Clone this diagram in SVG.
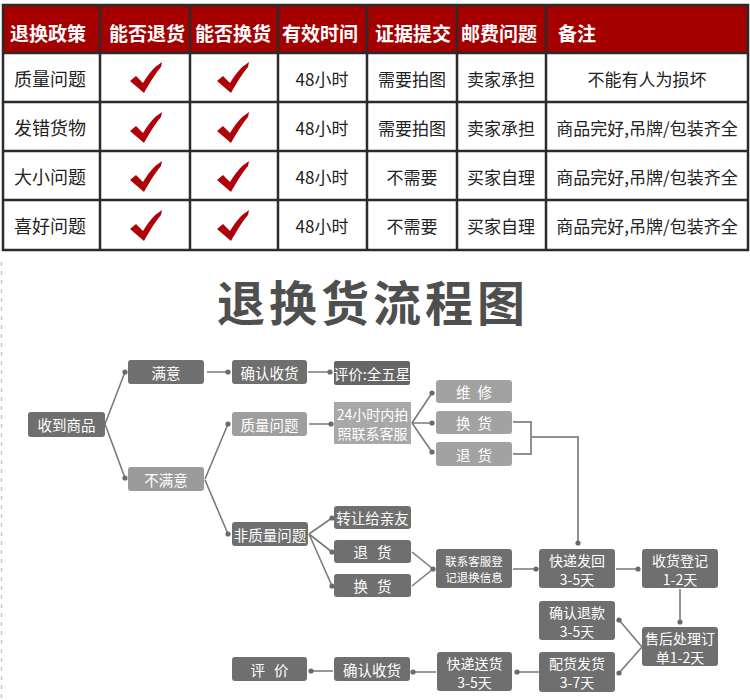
<svg xmlns="http://www.w3.org/2000/svg" width="750" height="700" viewBox="0 0 750 700">
<defs>
<style>
text{font-family:"Noto Sans CJK SC","Noto Sans",sans-serif;dominant-baseline:central;text-anchor:middle}
.hd{fill:#fff;font-size:19px;font-weight:bold}
.td{fill:#222;font-size:17px}
.td1{fill:#222;font-size:18px}
.nt{fill:#fff;font-size:14.5px}
.n2{fill:#fff;font-size:14px}
.ns{fill:#fff;font-size:11.5px}
.dk{fill:#6f6f6f}
.lt{fill:#a2a2a2}
.ln{stroke:#7a7a7a;stroke-width:1.6;fill:none}
.br{stroke:#8f8f8f;stroke-width:2;fill:none}
.dot{fill:#6a6a6a}
.grid{stroke:#2b2b2b;stroke-width:2.5;fill:none}
</style>
<path id="ck" d="M-16,3 L-10,-2 L-3,5 C2,-3 7,-10 12,-13 L16,-16 L15,-11 C9,-4 3,6 -2,15 Z" fill="#b0000a"/>
</defs>
<rect width="750" height="700" fill="#fff"/>

<g id="table">
<rect x="3" y="5" width="745" height="48" fill="#a50000"/>
<rect x="3" y="5" width="745" height="245" class="grid"/>
<path class="grid" d="M3,53H748M3,102H748M3,151H748M3,200H748M100,5V250M190,5V250M278,5V250M367,5V250M457,5V250M546,5V250"/>
<text class="hd" x="48" y="32">退换政策</text>
<text class="hd" x="147" y="32">能否退货</text>
<text class="hd" x="233" y="32">能否换货</text>
<text class="hd" x="320" y="32">有效时间</text>
<text class="hd" x="413" y="32">证据提交</text>
<text class="hd" x="499" y="32">邮费问题</text>
<text class="hd" x="558" y="32" style="text-anchor:start">备注</text>

<text class="td1" x="50" y="78">质量问题</text>
<text class="td1" x="50" y="127">发错货物</text>
<text class="td1" x="50" y="176">大小问题</text>
<text class="td1" x="50" y="225">喜好问题</text>

<use href="#ck" x="146" y="78"/>
<use href="#ck" x="233" y="78"/>
<use href="#ck" x="146" y="128"/>
<use href="#ck" x="233" y="128"/>
<use href="#ck" x="146" y="177"/>
<use href="#ck" x="233" y="177"/>
<use href="#ck" x="146" y="226"/>
<use href="#ck" x="233" y="226"/>

<text class="td" x="322" y="78">48小时</text>
<text class="td" x="322" y="127">48小时</text>
<text class="td" x="322" y="176">48小时</text>
<text class="td" x="322" y="225">48小时</text>
<text class="td" x="412" y="78">需要拍图</text>
<text class="td" x="412" y="127">需要拍图</text>
<text class="td" x="412" y="176">不需要</text>
<text class="td" x="412" y="225">不需要</text>
<text class="td" x="501" y="78">卖家承担</text>
<text class="td" x="501" y="127">卖家承担</text>
<text class="td" x="501" y="176">买家自理</text>
<text class="td" x="501" y="225">买家自理</text>
<text class="td" x="647" y="78">不能有人为损坏</text>
<text class="td" x="647" y="127">商品完好,吊牌/包装齐全</text>
<text class="td" x="647" y="176">商品完好,吊牌/包装齐全</text>
<text class="td" x="647" y="225">商品完好,吊牌/包装齐全</text>
</g>

<line x1="1.5" y1="262" x2="1.5" y2="700" stroke="#c8c8c8" stroke-width="1.5" stroke-dasharray="4 5"/>

<text x="373" y="300" style="font-size:48px;font-weight:bold;fill:#4f4f4f;letter-spacing:4px">退换货流程图</text>

<g id="connectors">
<path class="ln" d="M105,424L125,372M105,424L125,478M207,372H228M308,372H330M205,479L228,424M205,480L228,534M309,424H331M412,423L432,393M412,423H432M412,423L432,452M309,534L332,518M309,534L332,552M309,534L332,586M412,552L433,569M412,586L433,569M513,569H536M616,569H638M680,589V622M642,647L619,620M642,647L619,673M539,672H517M436,672H413M333,671H311"/>
<path class="br" d="M513,422H531V454H513M531,437H578V543"/>
<circle class="dot" cx="125" cy="372" r="2.6"/>
<circle class="dot" cx="125" cy="478" r="2.6"/>
<circle class="dot" cx="228" cy="372" r="2.6"/>
<circle class="dot" cx="330" cy="372" r="2.6"/>
<circle class="dot" cx="228" cy="424" r="2.6"/>
<circle class="dot" cx="228" cy="534" r="2.6"/>
<circle class="dot" cx="331" cy="424" r="2.6"/>
<circle class="dot" cx="432" cy="393" r="2.6"/>
<circle class="dot" cx="432" cy="423" r="2.6"/>
<circle class="dot" cx="432" cy="452" r="2.6"/>
<circle class="dot" cx="332" cy="518" r="2.6"/>
<circle class="dot" cx="332" cy="552" r="2.6"/>
<circle class="dot" cx="332" cy="586" r="2.6"/>
<circle class="dot" cx="433" cy="569" r="2.6"/>
<circle class="dot" cx="578" cy="543" r="2.6"/>
<circle class="dot" cx="536" cy="569" r="2.6"/>
<circle class="dot" cx="638" cy="569" r="2.6"/>
<circle class="dot" cx="680" cy="622" r="2.6"/>
<circle class="dot" cx="619" cy="620" r="2.6"/>
<circle class="dot" cx="619" cy="673" r="2.6"/>
<circle class="dot" cx="517" cy="672" r="2.6"/>
<circle class="dot" cx="413" cy="672" r="2.6"/>
<circle class="dot" cx="311" cy="671" r="2.6"/>
</g>

<g id="n1"><rect class="dk" x="28" y="412" width="77" height="25" rx="3"/><text class="nt" x="66.5" y="424.5">收到商品</text></g>
<g id="n2"><rect class="dk" x="128" y="360" width="76" height="24" rx="3"/><text class="nt" x="166" y="372">满意</text></g>
<g id="n3"><rect class="dk" x="232" y="360" width="75" height="24" rx="3"/><text class="nt" x="269.5" y="372">确认收货</text></g>
<g id="n4"><rect x="334" y="361" width="76" height="24" rx="2" fill="#666"/><text class="nt" x="372" y="373">评价:全五星</text></g>
<g id="n5"><rect x="128" y="467" width="76" height="24" rx="3" fill="#9b9b9b"/><text class="nt" x="166" y="479">不满意</text></g>
<g id="n6"><rect x="232" y="412" width="75" height="24" rx="3" fill="#9e9e9e"/><text class="nt" x="269.5" y="424">质量问题</text></g>
<g id="n7"><rect x="334" y="402" width="77" height="42" fill="#a8a8a8"/><text class="n2" x="372.5" y="414">24小时内拍</text><text class="n2" x="372.5" y="433">照联系客服</text></g>
<g id="n8"><rect class="lt" x="436" y="380" width="76" height="23" rx="3"/><text class="nt" x="474" y="391.5" style="word-spacing:4px">维 修</text></g>
<g id="n9"><rect class="lt" x="436" y="411" width="76" height="23" rx="3"/><text class="nt" x="474" y="422.5" style="word-spacing:4px">换 货</text></g>
<g id="n10"><rect class="lt" x="436" y="442" width="76" height="24" rx="3"/><text class="nt" x="474" y="454" style="word-spacing:4px">退 货</text></g>
<g id="n11"><rect class="dk" x="232" y="522" width="76" height="24" rx="3"/><text class="nt" x="270" y="534">非质量问题</text></g>
<g id="n12"><rect class="dk" x="334" y="506" width="77" height="23" rx="3"/><text class="nt" x="372.5" y="517.5">转让给亲友</text></g>
<g id="n13"><rect class="dk" x="334" y="540" width="77" height="23" rx="3"/><text class="nt" x="372.5" y="551.5" style="word-spacing:6px">退 货</text></g>
<g id="n14"><rect class="dk" x="334" y="574" width="77" height="23" rx="3"/><text class="nt" x="372.5" y="585.5" style="word-spacing:6px">换 货</text></g>
<g id="n15"><rect class="dk" x="436" y="549" width="76" height="39" rx="3"/><text class="ns" x="474" y="561">联系客服登</text><text class="ns" x="474" y="577">记退换信息</text></g>
<g id="n16"><rect class="dk" x="539" y="549" width="76" height="39" rx="3"/><text class="n2" x="577" y="559.5">快递发回</text><text class="n2" x="577" y="578.5">3-5天</text></g>
<g id="n17"><rect class="dk" x="642" y="549" width="76" height="39" rx="3"/><text class="n2" x="680" y="559.5">收货登记</text><text class="n2" x="680" y="578.5">1-2天</text></g>
<g id="n18"><rect class="dk" x="539" y="601" width="76" height="39" rx="3"/><text class="n2" x="577" y="611.5">确认退款</text><text class="n2" x="577" y="630.5">3-5天</text></g>
<g id="n19"><rect class="dk" x="642" y="627" width="76" height="39" rx="3"/><text class="n2" x="680" y="637.5">售后处理订</text><text class="n2" x="680" y="656.5">单1-2天</text></g>
<g id="n20"><rect class="dk" x="539" y="652" width="76" height="40" rx="3"/><text class="n2" x="577" y="662.5">配货发货</text><text class="n2" x="577" y="681.5">3-7天</text></g>
<g id="n21"><rect class="dk" x="437" y="652" width="75" height="39" rx="3"/><text class="n2" x="474.5" y="662.5">快递送货</text><text class="n2" x="474.5" y="681.5">3-5天</text></g>
<g id="n22"><rect class="dk" x="334" y="657" width="76" height="24" rx="3"/><text class="nt" x="372" y="669">确认收货</text></g>
<g id="n23"><rect class="dk" x="232" y="657" width="75" height="24" rx="3"/><text class="nt" x="269.5" y="669" style="word-spacing:6px">评 价</text></g>
</svg>
